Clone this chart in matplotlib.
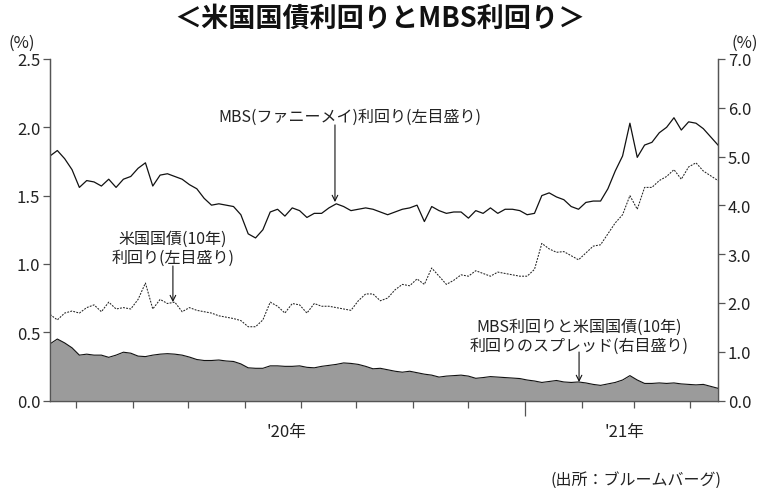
import matplotlib
matplotlib.use("Agg")
import matplotlib.pyplot as plt
import pandas as pd

plt.rcParams['font.family'] = ['Noto Sans CJK JP', 'DejaVu Sans']

# observation dates: every 4 days, mid-Apr 2020 to mid-Apr 2021
dates = pd.date_range('2020-04-17', periods=92, freq='4D')

# MBS (Fannie Mae) yield, left scale (%)
mbs_yield = [
    1.79, 1.83, 1.77, 1.69, 1.56, 1.61, 1.60, 1.57, 1.62, 1.56,
    1.62, 1.64, 1.70, 1.74, 1.57, 1.65, 1.66, 1.64, 1.62, 1.58,
    1.55, 1.48, 1.43, 1.44, 1.43, 1.42, 1.36, 1.22, 1.19, 1.25,
    1.38, 1.40, 1.35, 1.41, 1.39, 1.34, 1.37, 1.37, 1.41, 1.44,
    1.42, 1.39, 1.40, 1.41, 1.40, 1.38, 1.36, 1.38, 1.40, 1.41,
    1.43, 1.31, 1.42, 1.39, 1.37, 1.38, 1.38, 1.335, 1.39, 1.37,
    1.41, 1.37, 1.40, 1.40, 1.39, 1.36, 1.37, 1.50, 1.52, 1.49,
    1.47, 1.42, 1.40, 1.45, 1.46, 1.46, 1.55, 1.68, 1.79, 2.03,
    1.78, 1.87, 1.89, 1.96, 2.00, 2.07, 1.98, 2.04, 2.03, 1.99,
    1.93, 1.87,
]

# US Treasury 10y yield, left scale (%)
ust10_yield = [
    0.63, 0.59, 0.64, 0.655, 0.64, 0.68, 0.70, 0.65, 0.72, 0.67,
    0.68, 0.67, 0.74, 0.86, 0.67, 0.74, 0.71, 0.72, 0.65, 0.68,
    0.66, 0.65, 0.64, 0.62, 0.61, 0.60, 0.585, 0.54, 0.54, 0.59,
    0.72, 0.69, 0.64, 0.71, 0.70, 0.64, 0.71, 0.69, 0.69, 0.68,
    0.67, 0.66, 0.73, 0.78, 0.78, 0.73, 0.75, 0.81, 0.85, 0.84,
    0.89, 0.85, 0.97, 0.91, 0.85, 0.88, 0.92, 0.91, 0.95, 0.93,
    0.91, 0.94, 0.93, 0.92, 0.91, 0.91, 0.96, 1.15, 1.11, 1.085,
    1.09, 1.06, 1.03, 1.08, 1.13, 1.14, 1.22, 1.30, 1.36, 1.50,
    1.40, 1.56, 1.56, 1.61, 1.64, 1.69, 1.62, 1.71, 1.74, 1.68,
    1.645, 1.61,
]

# spread MBS - UST10y, right scale (%)
spread = [
    1.16, 1.26, 1.18, 1.08, 0.93, 0.95, 0.93, 0.93, 0.885, 0.93,
    0.99, 0.97, 0.91, 0.90, 0.93, 0.95, 0.96, 0.95, 0.93, 0.89,
    0.84, 0.82, 0.82, 0.83, 0.81, 0.80, 0.75, 0.67, 0.66, 0.66,
    0.71, 0.71, 0.70, 0.70, 0.71, 0.68, 0.67, 0.70, 0.72, 0.74,
    0.77, 0.76, 0.74, 0.70, 0.65, 0.66, 0.63, 0.60, 0.58, 0.60,
    0.57, 0.54, 0.52, 0.48, 0.50, 0.51, 0.52, 0.50, 0.455, 0.47,
    0.49, 0.48, 0.47, 0.46, 0.45, 0.42, 0.40, 0.37, 0.39, 0.41,
    0.38, 0.37, 0.38, 0.36, 0.33, 0.31, 0.34, 0.37, 0.42, 0.51,
    0.42, 0.35, 0.35, 0.36, 0.35, 0.36, 0.34, 0.33, 0.32, 0.33,
    0.29, 0.25,
]

left_ticks = [0.0, 0.5, 1.0, 1.5, 2.0, 2.5]
right_ticks = [0.0, 1.0, 2.0, 3.0, 4.0, 5.0, 6.0, 7.0]
year_labels = ["'20年", "'21年"]

axis_grey = '#555555'

fig = plt.figure(figsize=(7.6, 4.89), dpi=100)
ax1 = fig.add_axes([50 / 760, 1 - 401.5 / 489, 668 / 760, 341.5 / 489])
ax2 = ax1.twinx()

# spread (filled, right axis)
ax2.fill_between(dates, spread, 0, color='#9b9b9b', lw=0)
ax2.plot(dates, spread, color='#111111', lw=0.8)

# yields (left axis)
ax1.plot(dates, mbs_yield, color='#111111', lw=0.9)
ax1.plot(dates, ust10_yield, color='#222222', lw=0.75, linestyle=(0, (1.8, 1.2)))

ax1.set_xlim(pd.Timestamp('2020-04-17'), pd.Timestamp('2021-04-16'))
ax1.set_ylim(0, 2.5)
ax2.set_ylim(0, 7.0)

ax1.set_yticks(left_ticks)
ax1.set_yticklabels([f'{v:.1f}' for v in left_ticks])
ax2.set_yticks(right_ticks)
ax2.set_yticklabels([f'{v:.1f}' for v in right_ticks])

# monthly ticks, the year boundary drawn longer
months = pd.date_range('2020-05-01', '2021-04-01', freq='MS')
ax1.set_xticks([m for m in months if m.month != 1])
ax1.set_xticks([pd.Timestamp('2021-01-01')], minor=True)
ax1.set_xticklabels([])
ax1.tick_params(axis='x', which='major', length=5, width=0.9, color=axis_grey)
ax1.tick_params(axis='x', which='minor', length=11, width=0.9, color=axis_grey)

for ax in (ax1, ax2):
    ax.tick_params(axis='y', length=5, width=0.9, color=axis_grey,
                   labelsize=12, labelcolor='#222222', pad=2)
    ax.spines['top'].set_visible(False)
    for side in ('left', 'right', 'bottom'):
        ax.spines[side].set_color(axis_grey)
        ax.spines[side].set_linewidth(0.9)

# year labels centred under each year
for label, mid in zip(year_labels, [pd.Timestamp('2020-08-24'), pd.Timestamp('2021-02-24')]):
    ax1.text(mid, -0.092, label, transform=ax1.get_xaxis_transform(),
             ha='center', va='center', fontsize=12, color='#222222')

fig.text(0.5, 1 - 19 / 489, '＜米国国債利回りとMBS利回り＞', ha='center', va='center',
         fontsize=19.5, fontweight='bold', color='#111111')
fig.text(22 / 760, 1 - 43 / 489, '(%)', ha='center', va='center', fontsize=12, color='#222222')
fig.text(745 / 760, 1 - 43 / 489, '(%)', ha='center', va='center', fontsize=12, color='#222222')
fig.text(722 / 760, 1 - 480 / 489, '(出所：ブルームバーグ)', ha='right', va='center',
         fontsize=11.5, color='#222222')

arrow = dict(arrowstyle='->', color='#111111', lw=0.8, shrinkA=0, shrinkB=0)
ax1.text(0.449, 0.833, 'MBS(ファニーメイ)利回り(左目盛り)', transform=ax1.transAxes,
         ha='center', va='center', fontsize=11.5, color='#222222')
ax1.annotate('', xy=(0.4266, 0.581), xytext=(0.4266, 0.807), xycoords='axes fraction',
             arrowprops=arrow)

ax1.text(0.184, 0.447, '米国国債(10年)\n利回り(左目盛り)', transform=ax1.transAxes,
         ha='center', va='center', fontsize=11.5, color='#222222', linespacing=1.1)
ax1.annotate('', xy=(0.184, 0.288), xytext=(0.184, 0.394), xycoords='axes fraction',
             arrowprops=arrow)

ax1.text(0.792, 0.189, 'MBS利回りと米国国債(10年)\n利回りのスプレッド(右目盛り)',
         transform=ax1.transAxes, ha='center', va='center', fontsize=11.5,
         color='#222222', linespacing=1.1)
ax1.annotate('', xy=(0.792, 0.054), xytext=(0.792, 0.142), xycoords='axes fraction',
             arrowprops=arrow)

fig.savefig('out.png', dpi=100)
